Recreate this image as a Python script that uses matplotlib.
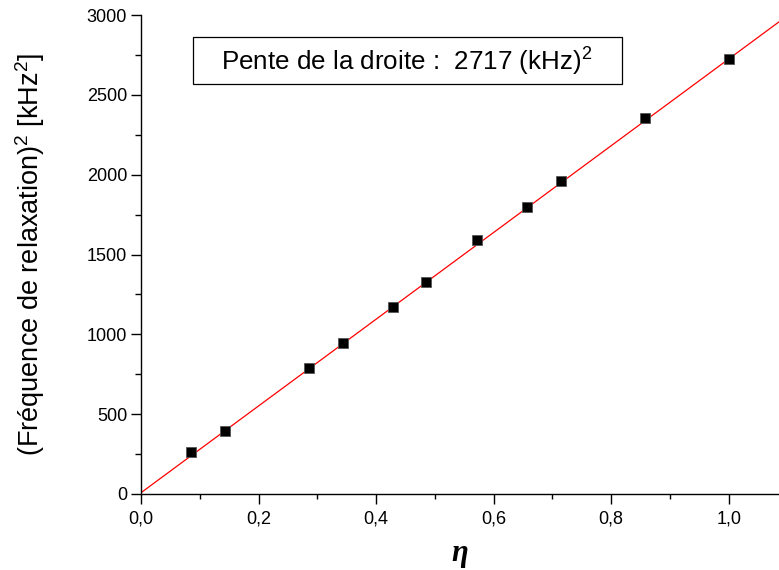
import matplotlib
matplotlib.use('Agg')
import matplotlib.pyplot as plt
from matplotlib.patches import Rectangle
import numpy as np

plt.rcParams['font.family'] = ['Liberation Sans', 'DejaVu Sans']
plt.rcParams['mathtext.fontset'] = 'custom'
plt.rcParams['mathtext.rm'] = 'Liberation Sans'
plt.rcParams['mathtext.default'] = 'regular'

# data
eta = [0.0857, 0.1429, 0.2857, 0.3429, 0.4286, 0.4857, 0.5714, 0.6571, 0.7143, 0.8571, 1.0]
freq2 = [261, 396, 787, 944, 1172, 1330, 1591, 1796, 1960, 2355, 2722]
slope = 2717
intercept = 8
x_ticks = [0.0, 0.2, 0.4, 0.6, 0.8, 1.0]
x_tick_labels = ['0,0', '0,2', '0,4', '0,6', '0,8', '1,0']
y_ticks = [0, 500, 1000, 1500, 2000, 2500, 3000]

W, H = 779, 570
fig = plt.figure(figsize=(W/100, H/100), dpi=100)
ax = fig.add_axes([141/W, 76/H, 638/W, 479/H])

xline = np.array([0, 1.09])
ax.plot(xline, slope*xline + intercept, color='red', lw=0.9, zorder=2)
ax.plot(eta, freq2, 's', color='black', markersize=7, mec='#555555', mew=0.6, zorder=3)

ax.set_xlim(0, 1.0854)
ax.set_ylim(0, 3000)
ax.spines['top'].set_visible(False)
ax.spines['right'].set_visible(False)
ax.spines['left'].set_linewidth(1.0)
ax.spines['bottom'].set_linewidth(1.0)

ax.set_xticks(x_ticks)
ax.set_xticklabels(x_tick_labels)
ax.set_xticks(np.arange(0.1, 1.09, 0.2), minor=True)
ax.set_yticks(y_ticks)
ax.set_yticks(np.arange(250, 3000, 500), minor=True)
ax.tick_params(axis='both', which='major', labelsize=13, width=1.0)
ax.tick_params(axis='x', which='major', length=7, pad=5)
ax.tick_params(axis='x', which='minor', length=3.5, width=1.0)
ax.tick_params(axis='y', which='major', length=7, pad=3)
ax.tick_params(axis='y', which='minor', length=4, width=1.0)

ax.set_ylabel('(Fréquence de relaxation)$^2$ [kHz$^2$]', fontsize=19.5)
ax.yaxis.label.set_va('center')
ax.yaxis.set_label_coords(-0.174, 0.5)
ax.set_xlabel('η', fontsize=22, family='Liberation Serif', fontweight='bold',
              fontstyle='italic', labelpad=8)

# text box with the slope
fig.patches.append(Rectangle((193/W, 1 - 83.5/H), 429/W, 46/H, transform=fig.transFigure,
                             fc='white', ec='black', lw=0.9, zorder=5))
fig.text(407/W, 1 - 62/H, 'Pente de la droite :  2717 (kHz)$^2$', fontsize=18.7,
         ha='center', va='center', zorder=6)

fig.savefig('out.png', dpi=100)
